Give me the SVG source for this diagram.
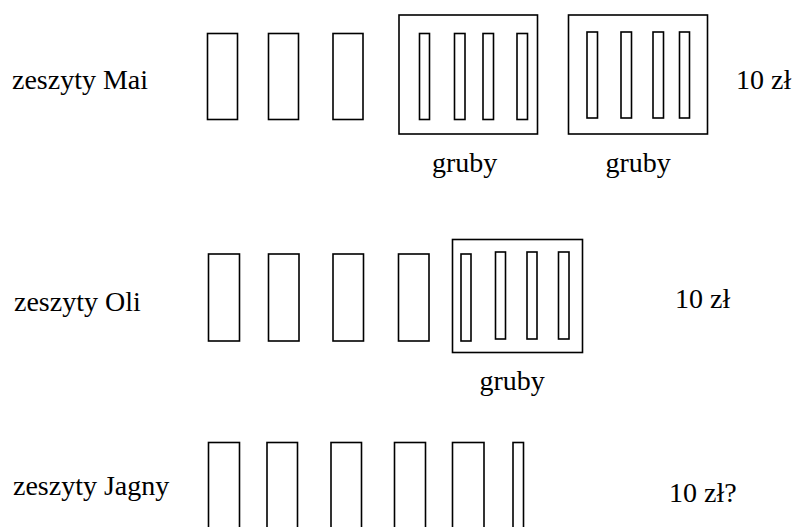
<svg xmlns="http://www.w3.org/2000/svg" width="795" height="527" viewBox="0 0 795 527">
<style>
rect{fill:none;stroke:#000;stroke-width:1.6}
.t{font-family:'Liberation Serif','Times New Roman','DejaVu Serif',serif;font-size:28px;fill:#000}
</style>
<rect x="0" y="0" width="795" height="527" style="fill:#fff;stroke:none"/>
<g id="row-mai">
<text class="t" x="12" y="89">zeszyty Mai</text>
<rect x="207.5" y="33.5" width="30" height="86"/>
<rect x="268.5" y="33.5" width="30" height="86"/>
<rect x="333" y="33.5" width="30" height="86"/>
<g id="mai-gruby1">
<rect x="399" y="15" width="138.5" height="119"/>
<rect x="419.5" y="33.5" width="10" height="86"/>
<rect x="454.5" y="33.5" width="10.5" height="86"/>
<rect x="483" y="33.5" width="10.5" height="86"/>
<rect x="517" y="33.5" width="10.5" height="86"/>
<text class="t" x="432" y="172">gruby</text>
</g>
<g id="mai-gruby2">
<rect x="568.5" y="15" width="139" height="119"/>
<rect x="587" y="32" width="10.5" height="86"/>
<rect x="621" y="32" width="10.5" height="86"/>
<rect x="653" y="32" width="10.5" height="86"/>
<rect x="679.5" y="32" width="10" height="86"/>
<text class="t" x="605.5" y="172">gruby</text>
</g>
<text class="t" x="736" y="89">10 zł</text>
</g>
<g id="row-oli">
<text class="t" x="14" y="311">zeszyty Oli</text>
<rect x="208.5" y="254" width="31" height="87"/>
<rect x="268.5" y="254" width="30.5" height="87"/>
<rect x="333" y="254" width="30.5" height="87"/>
<rect x="398.5" y="254" width="30.5" height="87"/>
<g id="oli-gruby">
<rect x="452.5" y="239.5" width="130" height="113"/>
<rect x="461" y="254" width="10" height="87"/>
<rect x="495.5" y="252" width="10" height="87"/>
<rect x="527" y="252" width="10" height="87"/>
<rect x="558.5" y="252" width="10.5" height="87"/>
<text class="t" x="479.5" y="390">gruby</text>
</g>
<text class="t" x="675" y="308">10 zł</text>
</g>
<g id="row-jagny">
<text class="t" x="13" y="495">zeszyty Jagny</text>
<rect x="208.5" y="442.5" width="31" height="100"/>
<rect x="267" y="442.5" width="30.5" height="100"/>
<rect x="331" y="442.5" width="30.5" height="100"/>
<rect x="394.5" y="442.5" width="31" height="100"/>
<rect x="452.5" y="442.5" width="31.5" height="100"/>
<rect x="513" y="442.5" width="10.5" height="100"/>
<text class="t" x="669" y="502">10 zł?</text>
</g>
<g id="connectors"/>
</svg>
